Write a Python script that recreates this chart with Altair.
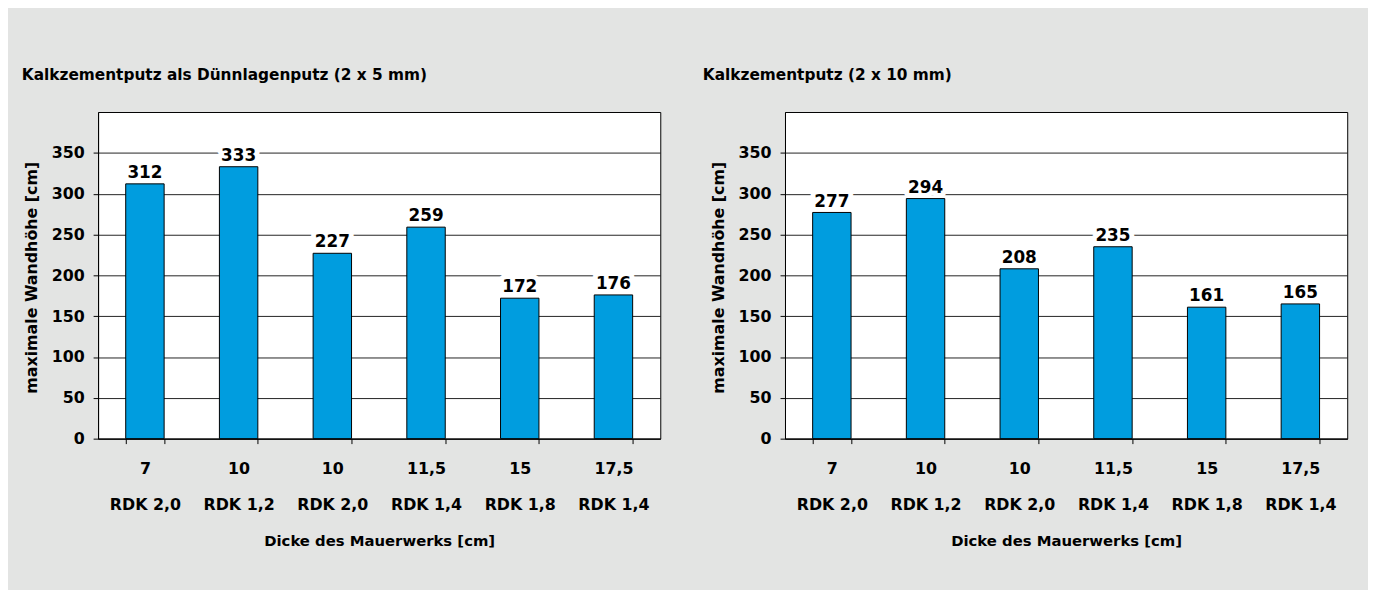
import altair as alt
import pandas as pd

dicke = ["7", "10", "10", "11,5", "15", "17,5"]
rdk = ["RDK 2,0", "RDK 1,2", "RDK 2,0", "RDK 1,4", "RDK 1,8", "RDK 1,4"]
hoehe_duennlagen = [312, 333, 227, 259, 172, 176]
hoehe_kalkzement = [277, 294, 208, 235, 161, 165]
y_ticks = [0, 50, 100, 150, 200, 250, 300, 350]

title_left = "Kalkzementputz als Dünnlagenputz (2 x 5 mm)"
title_right = "Kalkzementputz (2 x 10 mm)"
x_title = "Dicke des Mauerwerks [cm]"
y_title = "maximale Wandhöhe [cm]"

FONT = "DejaVu Sans"
WEIGHT = "bold"
BAR = "#009ddf"
BG = "#e3e4e3"


def panel(values, title, title_dx):
    df = pd.DataFrame({
        "kat": [f"{d}|{r}" for d, r in zip(dicke, rdk)],
        "wert": values,
    })
    x = alt.X(
        "kat:N", sort=None,
        scale=alt.Scale(paddingInner=0.59, paddingOuter=0.295),
        axis=alt.Axis(
            title=x_title, labelAngle=0,
            labelExpr="split(datum.label, '|')",
            tickBand="extent", grid=False, tickSize=5,
            labelPadding=17, labelLineHeight=37, titlePadding=21,
            titleFontSize=15,
        ),
    )
    y = alt.Y(
        "wert:Q",
        scale=alt.Scale(domain=[0, 400], nice=False),
        axis=alt.Axis(
            values=y_ticks, title=y_title, grid=True, tickSize=5,
            labelPadding=9, minExtent=45, maxExtent=45, titlePadding=14,
            titleY=167, titleFontSize=16,
        ),
    )
    base = alt.Chart(df)
    halo = base.mark_text(
        dy=-6, baseline="alphabetic", fontSize=17, font=FONT, fontWeight=WEIGHT,
        color="white", stroke="white", strokeWidth=10, strokeJoin="round",
    ).encode(x=x, y=y, text="wert:Q")
    bars = base.mark_bar(color=BAR, stroke="black", strokeWidth=1).encode(x=x, y=y)
    labels = base.mark_text(
        dy=-6, baseline="alphabetic", fontSize=17, font=FONT, fontWeight=WEIGHT,
        color="black",
    ).encode(x=x, y=y, text="wert:Q")
    return alt.layer(halo, bars, labels).properties(
        width=568, height=330,
        title=alt.TitleParams(
            title, anchor="start", frame="bounds", fontSize=15.5,
            fontWeight=WEIGHT, font=FONT, color="black", offset=29, dx=title_dx,
        ),
    )


chart = alt.hconcat(
    panel(hoehe_duennlagen, title_left, -2),
    panel(hoehe_kalkzement, title_right, -8),
    spacing=41,
).configure(
    background=BG,
    padding={"left": 13, "top": 57, "right": 20, "bottom": 55},
    font=FONT,
).configure_view(
    stroke="black", strokeWidth=1, fill="white",
).configure_axis(
    domainColor="black", tickColor="black", gridColor="#222222",
    labelColor="black", titleColor="black", labelFontSize=16,
    titleFontWeight=WEIGHT, labelFontWeight=WEIGHT,
    labelFont=FONT, titleFont=FONT,
    domainWidth=1, gridWidth=1, tickWidth=1,
)

chart.save("out.html", embed_options={"renderer": "svg", "actions": False})
